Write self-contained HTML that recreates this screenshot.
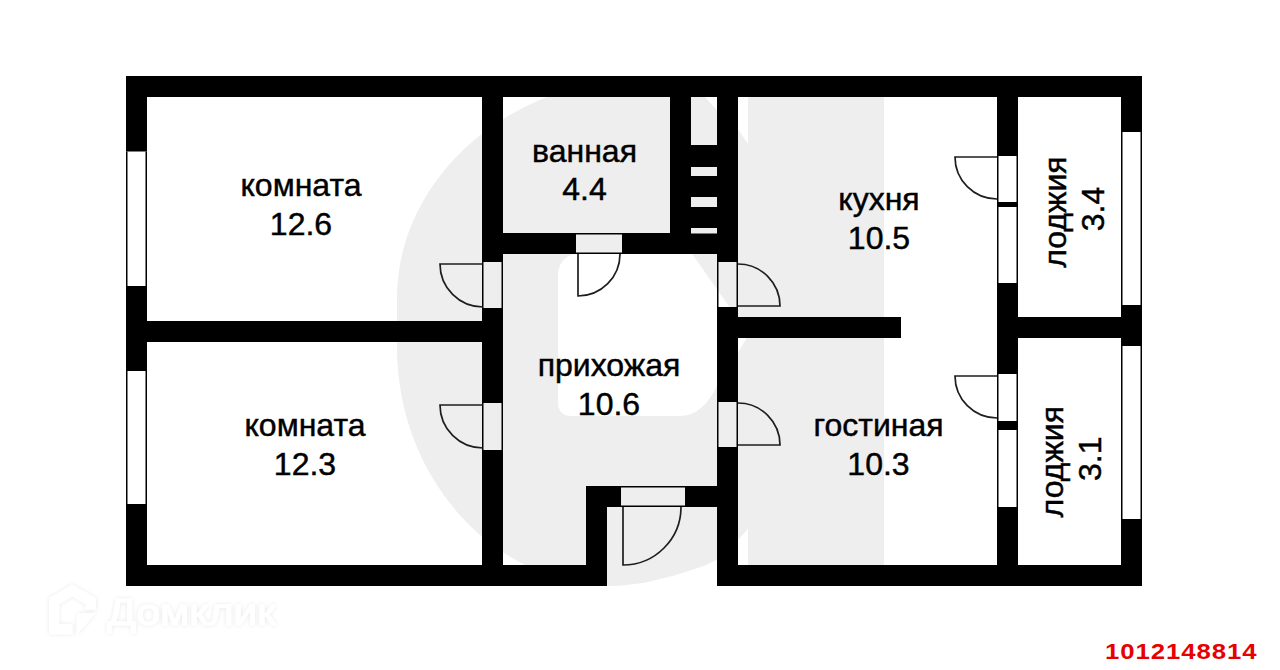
<!DOCTYPE html>
<html><head><meta charset="utf-8"><style>
html,body{margin:0;padding:0;background:#fff;}
body{width:1280px;height:670px;overflow:hidden;position:relative;}
svg{position:absolute;left:0;top:0;}
.lbl{font-family:"Liberation Sans",sans-serif;font-size:32px;fill:#000;stroke:#000;stroke-width:0.45px;}
.id{font-family:"Liberation Sans",sans-serif;font-weight:bold;font-size:22px;fill:#e60000;}
.logo{font-family:"Liberation Sans",sans-serif;font-size:36px;fill:#fff;stroke:#fff;stroke-width:1px;}
</style></head><body>
<svg width="1280" height="670" viewBox="0 0 1280 670">
<defs><filter id="sh" x="-20%" y="-20%" width="140%" height="140%"><feGaussianBlur in="SourceAlpha" stdDeviation="2.2"/><feComponentTransfer><feFuncA type="linear" slope="0.10"/></feComponentTransfer><feMerge><feMergeNode/><feMergeNode in="SourceGraphic"/></feMerge></filter></defs>
<path fill="#eeeeee" d="M657,76 L690,76 L705,97 L717,110 L738,129 L748,144 L748,76 L884,76 L884,586 L748,586 L748,529 L738,540 L717,559.7 L704.5,565.7 L674.6,575.4 L644.8,582.8 L620,585.8 L614,586 A217,239 0 0 1 397,347 L397,298 A260,222 0 0 1 657,76 Z"/>
<path fill="#fff" d="M578,253.8 L692,253.8 L745,329 Q749,335 745,341 L718,384 Q703,416 680,416 L572,416 Q558,416 558,402 L558,273.8 A20,20 0 0 1 578,253.8 Z"/>
<rect x="126" y="76" width="1016" height="21" fill="#000"/>
<rect x="126" y="76" width="21" height="75.5" fill="#000"/>
<rect x="126" y="286" width="21" height="85" fill="#000"/>
<rect x="126" y="504" width="21" height="82" fill="#000"/>
<rect x="1121" y="76" width="21" height="56" fill="#000"/>
<rect x="1121" y="305" width="21" height="41" fill="#000"/>
<rect x="1121" y="519" width="21" height="67" fill="#000"/>
<rect x="126" y="565" width="481" height="21" fill="#000"/>
<rect x="717" y="565" width="425" height="21" fill="#000"/>
<rect x="586" y="486" width="21" height="100" fill="#000"/>
<rect x="586" y="486" width="35" height="21" fill="#000"/>
<rect x="685" y="486" width="53" height="21" fill="#000"/>
<rect x="482" y="97" width="21" height="165" fill="#000"/>
<rect x="482" y="308" width="21" height="95" fill="#000"/>
<rect x="482" y="450" width="21" height="115" fill="#000"/>
<rect x="147" y="321" width="335" height="21" fill="#000"/>
<rect x="503" y="233" width="73" height="21" fill="#000"/>
<rect x="622" y="233" width="48" height="21" fill="#000"/>
<rect x="670" y="97" width="21" height="157" fill="#000"/>
<rect x="717" y="97" width="21" height="165" fill="#000"/>
<rect x="691" y="145" width="26" height="22" fill="#000"/>
<rect x="691" y="176" width="26" height="21" fill="#000"/>
<rect x="691" y="207" width="26" height="21" fill="#000"/>
<rect x="691" y="233.5" width="26" height="20.5" fill="#000"/>
<rect x="717" y="307" width="21" height="95" fill="#000"/>
<rect x="717" y="447" width="21" height="118" fill="#000"/>
<rect x="738" y="317" width="163" height="21" fill="#000"/>
<rect x="997" y="97" width="21" height="59" fill="#000"/>
<rect x="997" y="202" width="21" height="5" fill="#000"/>
<rect x="997" y="283" width="21" height="91" fill="#000"/>
<rect x="997" y="421" width="21" height="9" fill="#000"/>
<rect x="997" y="507" width="21" height="58" fill="#000"/>
<rect x="1018" y="317" width="103" height="21" fill="#000"/>
<path d="M126.75,151.5 V286 M146.25,151.5 V286" stroke="#000" stroke-width="1.5" fill="none"/>
<path d="M126.75,371 V504 M146.25,371 V504" stroke="#000" stroke-width="1.5" fill="none"/>
<path d="M1121.75,132 V305 M1141.25,132 V305" stroke="#000" stroke-width="1.5" fill="none"/>
<path d="M1121.75,346 V519 M1141.25,346 V519" stroke="#000" stroke-width="1.5" fill="none"/>
<path d="M482.75,262 V308 M502.25,262 V308" stroke="#000" stroke-width="1.5" fill="none"/>
<path d="M482.75,403 V450 M502.25,403 V450" stroke="#000" stroke-width="1.5" fill="none"/>
<path d="M717.75,262 V307 M737.25,262 V307" stroke="#000" stroke-width="1.5" fill="none"/>
<path d="M717.75,402 V447 M737.25,402 V447" stroke="#000" stroke-width="1.5" fill="none"/>
<path d="M997.75,156 V202 M1017.25,156 V202" stroke="#000" stroke-width="1.5" fill="none"/>
<path d="M997.75,207 V283 M1017.25,207 V283" stroke="#000" stroke-width="1.5" fill="none"/>
<path d="M997.75,374 V421 M1017.25,374 V421" stroke="#000" stroke-width="1.5" fill="none"/>
<path d="M997.75,430 V507 M1017.25,430 V507" stroke="#000" stroke-width="1.5" fill="none"/>
<path d="M576,233.75 H622 M576,253.25 H622" stroke="#000" stroke-width="1.5" fill="none"/>
<path d="M621,486.75 H685 M621,506.25 H685" stroke="#000" stroke-width="1.5" fill="none"/>
<path d="M483,264 H440 A43,43 0 0 0 483,307" stroke="#1e1e1e" stroke-width="1.7" fill="none"/>
<path d="M483,405 H440 A43,43 0 0 0 483,448" stroke="#1e1e1e" stroke-width="1.7" fill="none"/>
<path d="M578,254 V296 A42,42 0 0 0 620,254" stroke="#1e1e1e" stroke-width="1.7" fill="none"/>
<path d="M738,306 H780 A42,42 0 0 0 738,264" stroke="#1e1e1e" stroke-width="1.7" fill="none"/>
<path d="M738,445 H780 A42,42 0 0 0 738,403" stroke="#1e1e1e" stroke-width="1.7" fill="none"/>
<path d="M997,157 H955 A42,42 0 0 0 997,199" stroke="#1e1e1e" stroke-width="1.7" fill="none"/>
<path d="M997,376 H955 A42,42 0 0 0 997,418" stroke="#1e1e1e" stroke-width="1.7" fill="none"/>
<path d="M623,507 V565 A58,58 0 0 0 681,507" stroke="#1e1e1e" stroke-width="1.7" fill="none"/>
<g class="lbl">
<text x="301" y="196" text-anchor="middle">комната</text>
<text x="301" y="235" text-anchor="middle">12.6</text>
<text x="305" y="436" text-anchor="middle">комната</text>
<text x="305" y="475" text-anchor="middle">12.3</text>
<text x="584.5" y="161.5" text-anchor="middle">ванная</text>
<text x="584.5" y="200.3" text-anchor="middle">4.4</text>
<text x="609" y="376.3" text-anchor="middle">прихожая</text>
<text x="609" y="415.2" text-anchor="middle">10.6</text>
<text x="879" y="209.6" text-anchor="middle">кухня</text>
<text x="879" y="248.6" text-anchor="middle">10.5</text>
<text x="878.5" y="436" text-anchor="middle">гостиная</text>
<text x="878.5" y="475.2" text-anchor="middle">10.3</text>
<text transform="translate(1066,212) rotate(-90)" x="0" y="0" text-anchor="middle">лоджия</text>
<text transform="translate(1104,209) rotate(-90)" x="0" y="0" text-anchor="middle">3.4</text>
<text transform="translate(1062.5,461.7) rotate(-90)" x="0" y="0" text-anchor="middle">лоджия</text>
<text transform="translate(1100.5,458.7) rotate(-90)" x="0" y="0" text-anchor="middle">3.1</text>
</g>
<g filter="url(#sh)" fill="#fff">
<path d="M49,598 L72.2,584.5 L96,598 L96,609.5 L85.6,609.5 L85.6,604.2 L72.2,596.6 L59.2,604.2 L59.2,624.3 L72.6,624.3 L72.6,634.6 L53,634.6 Q49,634.6 49,630.6 Z"/>
<path d="M80.7,613.1 L96,613.1 L76.9,634.6 L76.9,617.1 Q76.9,613.1 80.7,613.1 Z"/>
<text class="logo" x="107" y="625" textLength="169" lengthAdjust="spacingAndGlyphs">Домклик</text>
</g>
<text class="id" x="0" y="0" transform="translate(1105,659.2) scale(1.17,1)" letter-spacing="0.8">1012148814</text>
</svg>
</body></html>
